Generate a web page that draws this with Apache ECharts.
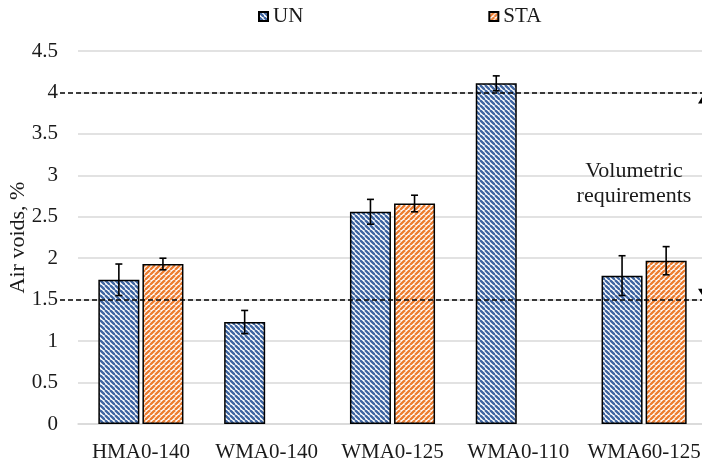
<!DOCTYPE html>
<html><head><meta charset="utf-8">
<script src="https://cdn.jsdelivr.net/npm/echarts@6/dist/echarts.min.js"></script>
<style>html,body{margin:0;padding:0;background:#fff}#c{width:702px;height:463px}</style>
</head><body><div id="c"></div>
<script>
const categories = ['HMA0-140', 'WMA0-140', 'WMA0-125', 'WMA0-110', 'WMA60-125'];
const unValues = [1.74, 1.23, 2.56, 4.11, 1.79];
const unErrors = [0.19, 0.14, 0.15, 0.09, 0.24];
const staValues = [1.93, null, 2.66, null, 1.97];
const staErrors = [0.07, null, 0.10, null, 0.17];
const limitLow = 1.5;
const limitHigh = 4;
const yTicks = { min: 0, max: 4.5, interval: 0.5 };

const FONT = '"Liberation Serif", "DejaVu Serif", serif';
const TXT = '#1a1a1a';

function stripe(fg, dir) {
  const s = 5;
  const c = document.createElement('canvas');
  c.width = s; c.height = s;
  const g = c.getContext('2d');
  g.fillStyle = '#ffffff'; g.fillRect(0, 0, s, s);
  g.strokeStyle = fg; g.lineWidth = 2.3;
  for (let k = -1; k <= 1; k++) {
    g.beginPath();
    if (dir === 'down') { g.moveTo(k * s, 0); g.lineTo(k * s + s, s); }
    else { g.moveTo(k * s, s); g.lineTo(k * s + s, 0); }
    g.stroke();
  }
  return { image: c, repeat: 'repeat' };
}
const unFill = stripe('#3d64a0', 'down');
const staFill = stripe('#ed7d31', 'up');

const BAR_W = 0.326, GAP = 0.075;

function errSeries(vals, errs, side) {
  const data = vals.map((v, i) => v == null ? null : [i, v - errs[i], v + errs[i]]).filter(d => d);
  return {
    type: 'custom', z: 10, silent: true,
    renderItem: function (params, api) {
      const i = api.value(0);
      const lo = api.coord([i, api.value(1)]);
      const hi = api.coord([i, api.value(2)]);
      const bw = api.size([1, 0])[0];
      const off = side * bw * BAR_W * (1 + GAP) / 2;
      const x = lo[0] + off;
      const cap = 3.5;
      const st = { stroke: '#000', lineWidth: 1.6 };
      return { type: 'group', children: [
        { type: 'line', shape: { x1: x, y1: lo[1], x2: x, y2: hi[1] }, style: st },
        { type: 'line', shape: { x1: x - cap, y1: hi[1], x2: x + cap, y2: hi[1] }, style: st },
        { type: 'line', shape: { x1: x - cap, y1: lo[1], x2: x + cap, y2: lo[1] }, style: st }
      ]};
    },
    encode: { x: 0, y: [1, 2] },
    data: data
  };
}

const chart = echarts.init(document.getElementById('c'), null, { renderer: 'canvas' });
chart.setOption({
  animation: false,
  textStyle: { fontFamily: FONT },
  grid: { left: 78, right: -5, top: 51, bottom: 39, containLabel: false, outerBoundsMode: 'none' },
  legend: {
    left: 253, top: 1, itemGap: 185, itemWidth: 9, itemHeight: 9, icon: 'rect',
    textStyle: { fontFamily: FONT, fontSize: 21, color: TXT },
    data: ['UN', 'STA']
  },
  xAxis: {
    type: 'category', data: categories,
    axisLine: { show: true, lineStyle: { color: '#d9d9d9', width: 1.5 } },
    axisTick: { show: false },
    axisLabel: { fontFamily: FONT, fontSize: 21, color: TXT, margin: 18, interval: 0, hideOverlap: false }
  },
  yAxis: {
    type: 'value', min: yTicks.min, max: yTicks.max, interval: yTicks.interval,
    name: 'Air voids, %', nameLocation: 'middle', nameGap: 49, nameMoveOverlap: false,
    nameTextStyle: { fontFamily: FONT, fontSize: 22, color: TXT },
    axisLine: { show: false }, axisTick: { show: false },
    axisLabel: { fontFamily: FONT, fontSize: 21, color: TXT, margin: 20 },
    splitLine: { lineStyle: { color: '#d9d9d9', width: 1.5 } }
  },
  series: [
    {
      name: 'UN', type: 'bar', data: unValues,
      barWidth: (BAR_W * 100) + '%', barGap: (GAP * 100) + '%',
      itemStyle: { color: unFill, borderColor: '#000', borderWidth: 1.5 },
      markLine: {
        silent: true, symbol: 'none', z: 5,
        label: { show: false },
        lineStyle: { color: '#000', type: [5, 3], width: 1.5 },
        data: [
          [{ xAxis: 0, yAxis: limitHigh, x: 60 }, { xAxis: 4, yAxis: limitHigh, x: 702 }],
          [{ xAxis: 0, yAxis: limitLow, x: 60 }, { xAxis: 4, yAxis: limitLow, x: 702 }]
        ]
      },
      markPoint: {
        silent: true, symbol: 'triangle', symbolSize: [10, 8],
        itemStyle: { color: '#000' }, label: { show: false },
        data: [
          { xAxis: 4, yAxis: limitHigh, x: 703, symbolOffset: [0, 7] },
          { xAxis: 4, yAxis: limitLow, x: 703, symbolRotate: 180, symbolOffset: [0, -7] }
        ]
      }
    },
    {
      name: 'STA', type: 'bar', data: staValues,
      barWidth: (BAR_W * 100) + '%', barGap: (GAP * 100) + '%',
      itemStyle: { color: staFill, borderColor: '#000', borderWidth: 1.5 }
    },
    errSeries(unValues, unErrors, -1),
    errSeries(staValues, staErrors, 1)
  ],
  graphic: [
    { type: 'text', x: 634, y: 159, z: 20,
      style: { text: 'Volumetric\nrequirements', fontFamily: FONT, fontSize: 22, fill: TXT,
               align: 'center', lineHeight: 25 } }
  ]
});
</script></body></html>
